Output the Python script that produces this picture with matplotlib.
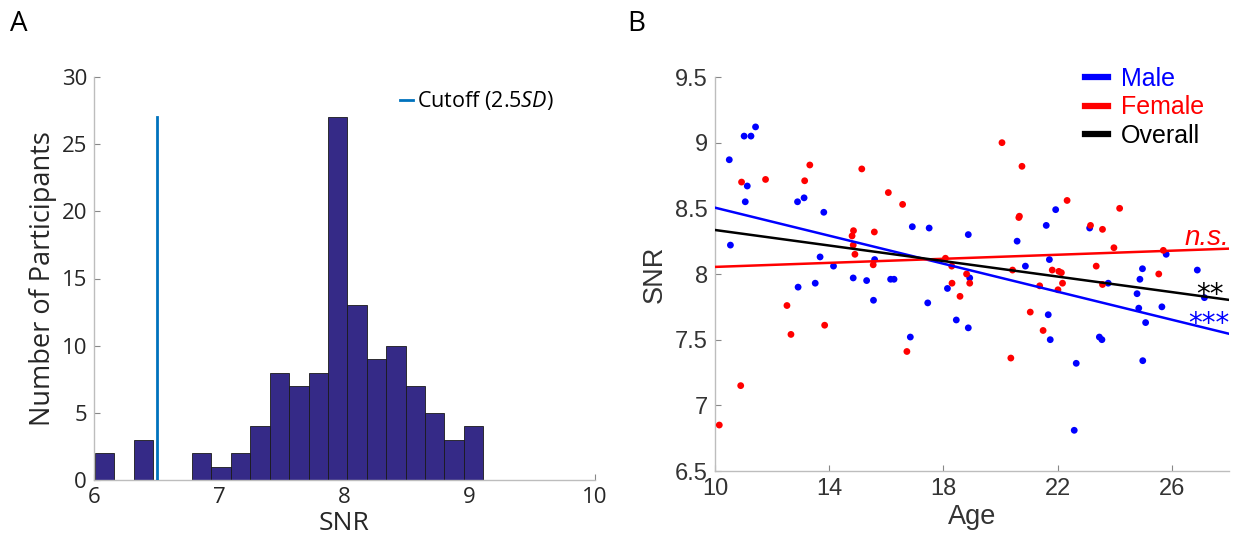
import numpy as np
import matplotlib
matplotlib.use("Agg")
import matplotlib.pyplot as plt
from matplotlib.lines import Line2D

# ---------------- data ----------------
# Panel A: histogram of SNR
bin_edges = [6.008, 6.163, 6.318, 6.473, 6.628, 6.783, 6.938, 7.093, 7.248, 7.403,
             7.558, 7.713, 7.868, 8.023, 8.178, 8.333, 8.488, 8.643, 8.798, 8.953, 9.108]
counts = [2, 0, 3, 0, 0, 2, 1, 2, 4, 8, 7, 8, 27, 13, 9, 10, 7, 5, 3, 4]
cutoff_x = 6.50
cutoff_top = 27

# Panel B: SNR vs Age
male_age = [10.50, 11.02, 11.26, 11.42, 11.13, 11.06, 10.54, 12.89, 13.12, 13.81,
            13.68, 14.15, 12.91, 13.51, 16.91, 17.50, 18.87, 15.59, 14.84, 15.31,
            16.15, 16.27, 18.92, 18.14, 15.55, 17.45, 18.45, 18.87, 16.84, 21.93,
            21.60, 23.12, 20.58, 21.71, 20.87, 21.67, 21.74, 23.46, 23.55, 22.65,
            22.58, 25.80, 24.97, 26.89, 24.88, 23.77, 24.78, 27.14, 24.84, 25.65,
            25.08, 24.98]
male_snr = [8.87, 9.05, 9.05, 9.12, 8.67, 8.55, 8.22, 8.55, 8.58, 8.47,
            8.13, 8.06, 7.90, 7.93, 8.36, 8.35, 8.30, 8.11, 7.97, 7.95,
            7.96, 7.96, 7.97, 7.89, 7.80, 7.78, 7.65, 7.59, 7.52, 8.49,
            8.37, 8.35, 8.25, 8.11, 8.06, 7.69, 7.50, 7.52, 7.50, 7.32,
            6.81, 8.15, 8.04, 8.03, 7.96, 7.93, 7.85, 7.82, 7.74, 7.75,
            7.63, 7.34]
female_age = [10.93, 11.77, 13.32, 13.14, 12.52, 13.84, 12.66, 10.90, 10.15, 15.14,
              16.07, 16.57, 14.85, 14.80, 15.58, 14.84, 14.90, 15.54, 18.07, 18.29,
              18.81, 18.92, 18.30, 18.58, 16.72, 20.05, 20.75, 22.33, 20.66, 20.64,
              23.15, 23.57, 20.42, 21.81, 22.04, 22.13, 23.35, 22.17, 21.37, 22.01,
              23.57, 21.04, 21.49, 20.36, 24.17, 23.97, 25.70, 25.54]
female_snr = [8.70, 8.72, 8.83, 8.71, 7.76, 7.61, 7.54, 7.15, 6.85, 8.80,
              8.62, 8.53, 8.33, 8.29, 8.32, 8.22, 8.15, 8.07, 8.12, 8.06,
              8.00, 7.93, 7.93, 7.83, 7.41, 9.00, 8.82, 8.56, 8.44, 8.43,
              8.37, 8.34, 8.03, 8.03, 8.02, 8.01, 8.06, 7.93, 7.91, 7.88,
              7.92, 7.71, 7.57, 7.36, 8.50, 8.20, 8.18, 8.00]
fit_age = [10, 28]
male_fit = [8.505, 7.545]
female_fit = [8.054, 8.193]
overall_fit = [8.335, 7.803]

# ---------------- style ----------------
plt.rcParams['mathtext.fontset'] = 'custom'
plt.rcParams['mathtext.rm'] = 'Open Sans'
plt.rcParams['mathtext.it'] = 'Open Sans:italic'

W, H = 1238, 541
fig = plt.figure(figsize=(W / 100, H / 100), dpi=100)

spine_col = '#bdbdbd'
txt_col = '#262626'

def style_axes(ax):
    for s in ['top', 'right']:
        ax.spines[s].set_visible(False)
    for s in ['left', 'bottom']:
        ax.spines[s].set_color(spine_col)
        ax.spines[s].set_linewidth(1.0)
    ax.tick_params(direction='in', length=4, color='#888888', width=0.8,
                   labelcolor=txt_col, pad=5)

# ---------------- Panel A ----------------
axA = fig.add_axes([94 / W, 1 - 480 / H, (595 - 94) / W, (480 - 77) / H])
edges = np.array(bin_edges)
cnt = np.array(counts)
mask = cnt > 0
axA.bar(edges[:-1][mask], cnt[mask], width=np.diff(edges)[mask], align='edge',
        color='#352A87', edgecolor='#1a1a1a', linewidth=0.6, zorder=2)
axA.plot([cutoff_x, cutoff_x], [0, cutoff_top], color='#0072BD', lw=2,
         label='Cutoff (2.5$\\mathit{SD}$)', zorder=3)
axA.set_xlim(6, 10)
axA.set_ylim(0, 30)
axA.set_xticks([6, 7, 8, 9, 10])
axA.set_yticks(range(0, 31, 5))
style_axes(axA)
for lab in axA.get_xticklabels() + axA.get_yticklabels():
    lab.set_fontfamily('Open Sans')
    lab.set_fontsize(16)
axA.set_xlabel('SNR', fontfamily='Open Sans', fontsize=19, color=txt_col, labelpad=2)
axA.set_ylabel('Number of Participants', fontfamily='Open Sans', fontsize=19.5,
               color=txt_col, labelpad=3)
legA = axA.legend(loc='upper left', bbox_to_anchor=(0.611, 0.97), frameon=False,
                  handlelength=0.6, handletextpad=0.2, borderpad=0, borderaxespad=0,
                  prop={'family': 'Open Sans', 'size': 15.5})

fig.text(10 / W, 1 - 31 / H, 'A', fontfamily='Open Sans', fontsize=20, color='black')
fig.text(627 / W, 1 - 31 / H, 'B', fontfamily='Open Sans', fontsize=20, color='black')

# ---------------- Panel B ----------------
axB = fig.add_axes([715 / W, 1 - 471 / H, (1229 - 715) / W, (471 - 77) / H])
axB.scatter(male_age, male_snr, s=24, color='#0000FF', edgecolors='none', zorder=3)
axB.scatter(female_age, female_snr, s=24, color='#FF0000', edgecolors='none', zorder=3)
axB.plot(fit_age, male_fit, color='#0000FF', lw=1.8, zorder=4)
axB.plot(fit_age, female_fit, color='#FF0000', lw=1.8, zorder=4)
axB.plot(fit_age, overall_fit, color='#000000', lw=1.8, zorder=4)
axB.set_xlim(10, 28)
axB.set_ylim(6.5, 9.5)
axB.set_xticks([10, 14, 18, 22, 26])
axB.set_yticks([6.5, 7, 7.5, 8, 8.5, 9, 9.5])
axB.set_yticklabels(['6.5', '7', '7.5', '8', '8.5', '9', '9.5'])
style_axes(axB)
for lab in axB.get_xticklabels() + axB.get_yticklabels():
    lab.set_fontfamily('Liberation Sans')
    lab.set_fontsize(17)
    lab.set_color('#333333')
axB.set_xlabel('Age', fontfamily='Liberation Sans', fontsize=19.5, color='#333333', labelpad=3)
axB.set_ylabel('SNR', fontfamily='Liberation Sans', fontsize=19.5, color='#333333', labelpad=5)

handles = [Line2D([], [], color='#0000FF', lw=4.5),
           Line2D([], [], color='#FF0000', lw=4.5),
           Line2D([], [], color='#000000', lw=4.5)]
legB = axB.legend(handles, ['Male', 'Female', 'Overall'], loc='upper left',
                  bbox_to_anchor=(0.72, 1.026), frameon=False, handlelength=0.92,
                  handletextpad=0.5, labelspacing=0.18, borderpad=0, borderaxespad=0,
                  prop={'family': 'Liberation Sans', 'size': 18})
for t, c in zip(legB.get_texts(), ['#0000FF', '#FF0000', '#000000']):
    t.set_color(c)

axB.text(28, 8.22, 'n.s.', color='#FF0000', fontsize=20, style='italic',
         fontfamily='Liberation Sans', ha='right', va='baseline')
axB.text(27.82, 7.777, '**', color='#000000', fontsize=20,
         fontfamily='DejaVu Sans', ha='right', va='baseline')
axB.text(28.02, 7.560, '***', color='#0000FF', fontsize=20,
         fontfamily='DejaVu Sans', ha='right', va='baseline')

fig.savefig('out.png', dpi=100)
